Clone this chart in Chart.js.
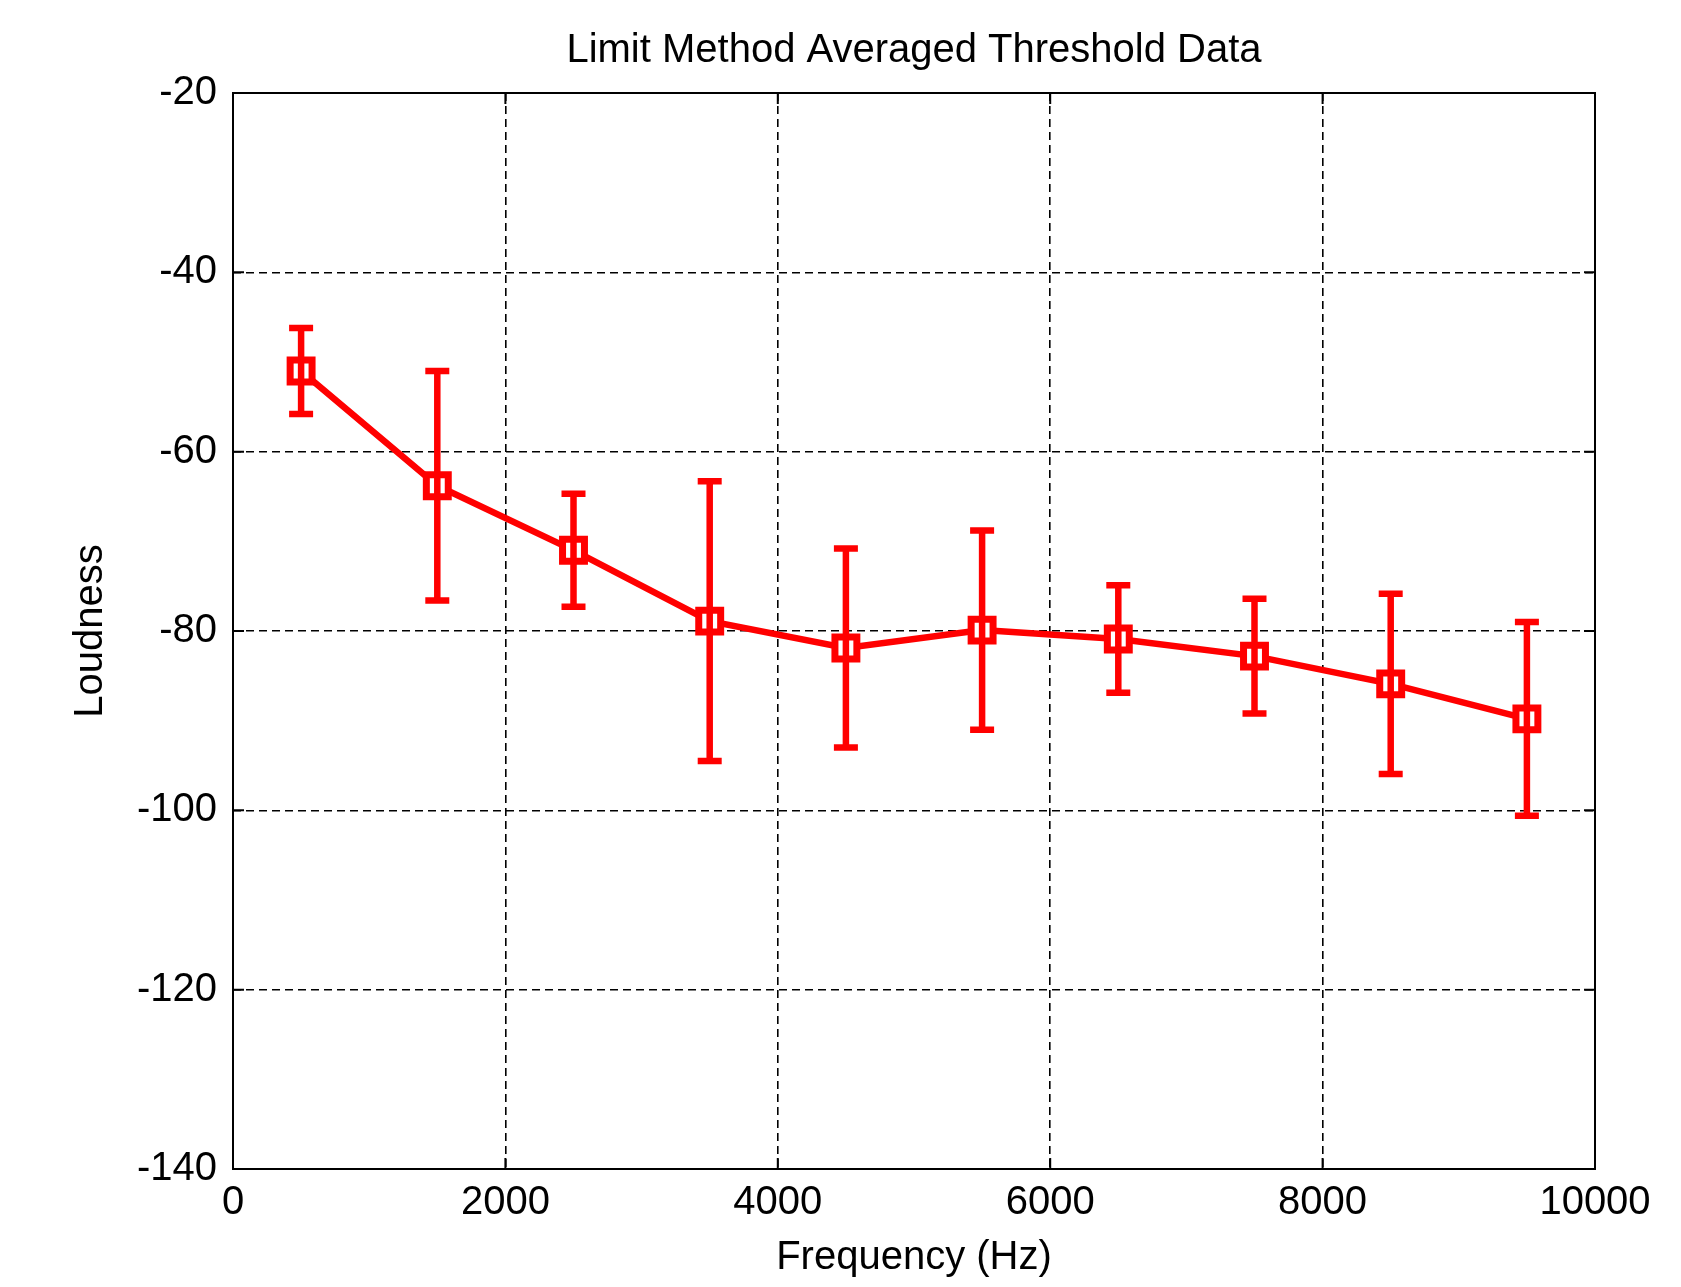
<!DOCTYPE html>
<html lang="en">
<head>
    <meta charset="UTF-8">
    <script src="https://cdn.jsdelivr.net/npm/chart.js"></script>
    <style>
        html, body { margin: 0; padding: 0; background: #fff; }
        #wrap { width: 1681px; height: 1287px; }
    </style>
</head>
<body>
    <div id="wrap"><canvas id="myChart"></canvas></div>
    <script>
        // averaged thresholds
        var frequencies = [500, 1500, 2500, 3500, 4500, 5500, 6500, 7500, 8500, 9500];
        var loudness = [-51.0, -63.8, -71.0, -78.9, -81.9, -79.9, -80.9, -82.8, -85.9, -89.8];
        var errors = [4.8, 12.8, 6.3, 15.6, 11.1, 11.1, 6.0, 6.4, 10.05, 10.8];

        var xTicks = [0, 2000, 4000, 6000, 8000, 10000];
        var yTicks = [-20, -40, -60, -80, -100, -120, -140];

        var red = '#ff0000';
        var fontFamily = '"Liberation Sans", Arial, sans-serif';

        // vertical error bars with caps
        var errorBarPlugin = {
            id: 'errorBars',
            afterDatasetsDraw: function (chart) {
                var ctx = chart.ctx;
                var xs = chart.scales.x, ys = chart.scales.y;
                var cap = 12;
                ctx.save();
                ctx.strokeStyle = red;
                ctx.lineWidth = 6.5;
                for (var i = 0; i < frequencies.length; i++) {
                    var x = xs.getPixelForValue(frequencies[i]);
                    var top = ys.getPixelForValue(loudness[i] + errors[i]);
                    var bot = ys.getPixelForValue(loudness[i] - errors[i]);
                    ctx.beginPath();
                    ctx.moveTo(x, top); ctx.lineTo(x, bot);
                    ctx.moveTo(x - cap, top); ctx.lineTo(x + cap, top);
                    ctx.moveTo(x - cap, bot); ctx.lineTo(x + cap, bot);
                    ctx.stroke();
                }
                ctx.restore();
            }
        };

        // full box with inward tick marks, matlab style
        var boxPlugin = {
            id: 'box',
            afterDraw: function (chart) {
                var ctx = chart.ctx, a = chart.chartArea;
                var xs = chart.scales.x, ys = chart.scales.y;
                var len = 11;
                ctx.save();
                ctx.strokeStyle = '#000';
                ctx.lineWidth = 2;
                ctx.strokeRect(a.left, a.top, a.right - a.left, a.bottom - a.top);
                ctx.beginPath();
                xTicks.forEach(function (v) {
                    var px = xs.getPixelForValue(v);
                    ctx.moveTo(px, a.bottom); ctx.lineTo(px, a.bottom - len);
                    ctx.moveTo(px, a.top); ctx.lineTo(px, a.top + len);
                });
                yTicks.forEach(function (v) {
                    var py = ys.getPixelForValue(v);
                    ctx.moveTo(a.left, py); ctx.lineTo(a.left + len, py);
                    ctx.moveTo(a.right, py); ctx.lineTo(a.right - len, py);
                });
                ctx.stroke();
                ctx.restore();
            }
        };

        var ctx = document.getElementById('myChart').getContext('2d');
        var myChart = new Chart(ctx, {
            type: 'line',
            data: {
                datasets: [{
                    data: frequencies.map(function (f, i) { return { x: f, y: loudness[i] }; }),
                    borderColor: red,
                    borderWidth: 6.5,
                    pointStyle: 'rect',
                    pointRadius: 15.5,
                    pointBorderWidth: 7,
                    pointBorderColor: red,
                    pointBackgroundColor: '#fff',
                    tension: 0,
                    clip: false
                }]
            },
            options: {
                responsive: true,
                maintainAspectRatio: false,
                animation: false,
                layout: { padding: { top: 0, left: 0, right: 86, bottom: 0 } },
                plugins: {
                    legend: { display: false },
                    tooltip: { enabled: false },
                    title: {
                        display: true,
                        fullSize: false,
                        text: 'Limit Method Averaged Threshold Data',
                        color: '#000',
                        font: { family: fontFamily, size: 40, weight: 'normal' },
                        padding: { top: 27, bottom: 18 }
                    }
                },
                scales: {
                    x: {
                        type: 'linear',
                        min: 0,
                        max: 10000,
                        afterBuildTicks: function (scale) {
                            scale.ticks = xTicks.map(function (v) { return { value: v }; });
                        },
                        afterFit: function (scale) { scale.height = 118; },
                        grid: { color: '#000', lineWidth: 1.6, drawTicks: false },
                        border: { display: false, dash: [8, 5] },
                        ticks: {
                            color: '#000',
                            padding: 10,
                            maxRotation: 0,
                            font: { family: fontFamily, size: 40 },
                            callback: function (v) { return String(v); }
                        },
                        title: {
                            display: true,
                            text: 'Frequency (Hz)',
                            color: '#000',
                            font: { family: fontFamily, size: 40 },
                            padding: { top: 0, bottom: 5 }
                        }
                    },
                    y: {
                        type: 'linear',
                        min: -140,
                        max: -20,
                        afterBuildTicks: function (scale) {
                            scale.ticks = yTicks.map(function (v) { return { value: v }; });
                        },
                        afterFit: function (scale) { scale.width = 233; },
                        grid: { color: '#000', lineWidth: 1.6, drawTicks: false },
                        border: { display: false, dash: [8, 5] },
                        ticks: {
                            color: '#000',
                            padding: 16,
                            font: { family: fontFamily, size: 40 },
                            callback: function (v) { return String(v); }
                        },
                        title: {
                            display: true,
                            text: 'Loudness',
                            color: '#000',
                            font: { family: fontFamily, size: 40 },
                            padding: { top: 67, bottom: 0 }
                        }
                    }
                }
            },
            plugins: [errorBarPlugin, boxPlugin]
        });
    </script>
</body>
</html>
